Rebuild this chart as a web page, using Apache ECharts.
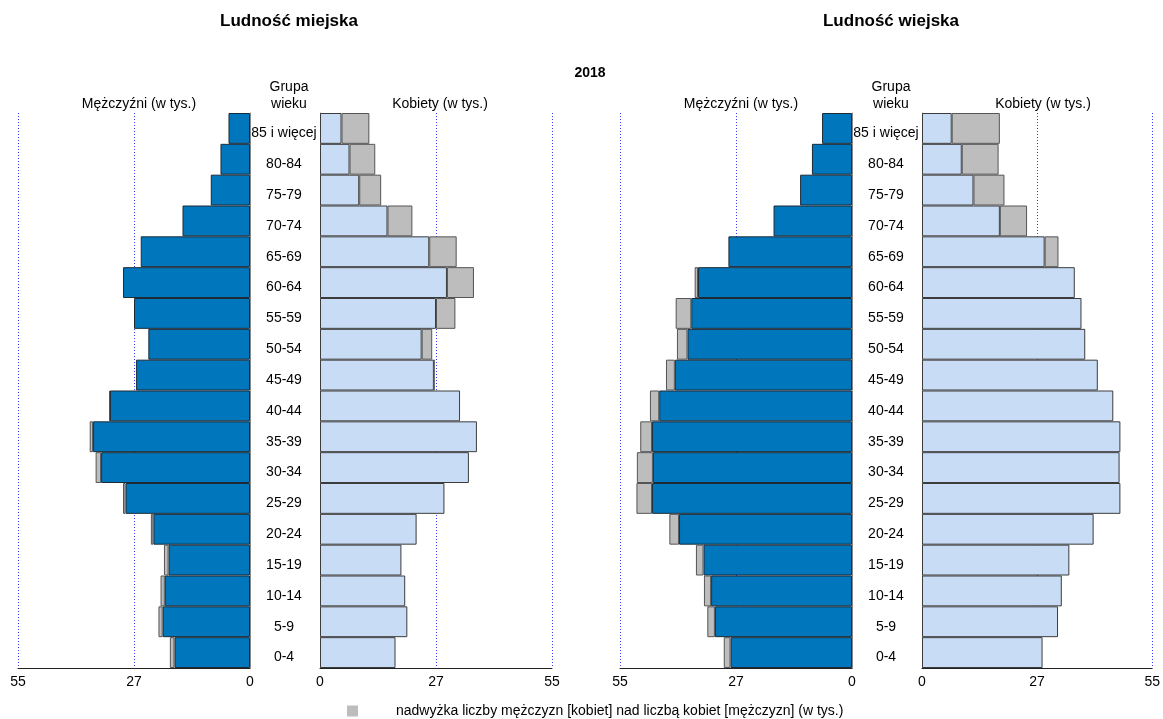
<!DOCTYPE html>
<html>
<head>
<meta charset="utf-8">
<script src="https://cdn.jsdelivr.net/npm/echarts@6/dist/echarts.min.js"></script>
<style>
  html, body { margin: 0; padding: 0; background: #fff; }
  #main { width: 1163px; height: 719px; }
</style>
</head>
<body>
<div id="main"></div>
<script>
// age groups, top to bottom
var ageGroups = ['85 i więcej', '80-84', '75-79', '70-74', '65-69', '60-64', '55-59', '50-54', '45-49',
    '40-44', '35-39', '30-34', '25-29', '20-24', '15-19', '10-14', '5-9', '0-4'];

// ludnosc miejska (w tys.)
var urbanMen   = [5.1, 7.0, 9.3, 16.0, 25.9, 30.1, 27.5, 24.1, 27.0, 33.4, 38.0, 36.6, 30.1, 23.5, 20.4, 21.2, 21.7, 19.0];
var urbanWomen = [11.7, 13.1, 14.5, 21.9, 32.4, 36.5, 32.1, 26.6, 27.1, 33.2, 37.2, 35.3, 29.5, 22.9, 19.3, 20.2, 20.7, 17.9];

// ludnosc wiejska (w tys.)
var ruralMen   = [7.1, 9.5, 12.3, 18.6, 29.3, 37.3, 41.8, 41.5, 44.1, 47.9, 50.2, 51.0, 51.1, 43.3, 37.0, 35.1, 34.3, 30.4];
var ruralWomen = [18.6, 18.3, 19.7, 25.1, 32.6, 36.5, 38.1, 39.0, 42.0, 45.7, 47.4, 47.2, 47.4, 41.0, 35.2, 33.4, 32.5, 28.8];

var tickValues = [0, 27.5, 55];
var tickLabels = ['0', '27', '55'];

var excessName = 'nadwyżka liczby mężczyzn [kobiet] nad liczbą kobiet [mężczyzn] (w tys.)';
var font = 'Liberation Sans, Arial, sans-serif';

var myChart = echarts.init(document.getElementById('main'));

function xAxisFor(idx, inverse) {
    return {
        type: 'value', gridIndex: idx, min: 0, max: 55, interval: 27.5, inverse: inverse,
        axisLine: {show: true, lineStyle: {color: '#222', width: 1}},
        axisTick: {show: false},
        axisLabel: {
            color: '#000', fontSize: 14, fontFamily: font, margin: 7,
            showMinLabel: true, showMaxLabel: true,
            formatter: function (v) { return tickLabels[tickValues.indexOf(v)]; }
        },
        splitLine: {show: true, lineStyle: {color: ['#3a3aff'], type: [1, 2], width: 1, opacity: 1}}
    };
}

function yAxisFor(idx, male) {
    return {
        type: 'category', gridIndex: idx, data: ageGroups, inverse: true,
        position: male ? 'right' : 'left',
        axisLine: {show: true, onZero: false, lineStyle: {color: '#888', width: 1}},
        axisTick: {show: false},
        axisLabel: {
            show: male, color: '#000', fontSize: 14, fontFamily: font,
            margin: 34, align: 'center', verticalAlign: 'top', padding: [-2, 0, 0, 0]
        }
    };
}

// blue = smaller of the two, grey = surplus on the bigger side
function panelSeries(idx, main, other, color, border) {
    return [
        {
            name: 'base' + idx, type: 'bar', xAxisIndex: idx, yAxisIndex: idx, stack: 's' + idx,
            barWidth: '100%', barCategoryGap: 0,
            data: main.map(function (v, i) { return Math.min(v, other[i]); }),
            itemStyle: {color: color, borderColor: border, borderWidth: 1},
            silent: true
        },
        {
            name: excessName, type: 'bar', xAxisIndex: idx, yAxisIndex: idx, stack: 's' + idx,
            barWidth: '100%', barCategoryGap: 0,
            data: main.map(function (v, i) { return v > other[i] ? +(v - other[i]).toFixed(1) : null; }),
            itemStyle: {color: '#bdbdbd', borderColor: '#555', borderWidth: 1},
            silent: true
        }
    ];
}

var darkBlue = '#0077bd';
var lightBlue = '#c8dcf6';

function heading(text, x, y, size, bold) {
    return {
        text: text, left: x, top: y, textAlign: 'center',
        textStyle: {fontSize: size, fontWeight: bold ? 'bold' : 'normal', color: '#000',
            lineHeight: 17, fontFamily: font}
    };
}

var option = {
    backgroundColor: '#fff',
    animation: false,
    textStyle: {fontFamily: font},
    title: [
        heading('Ludność miejska', 284, 8, 17, true),
        heading('Ludność wiejska', 886, 8, 17, true),
        heading('2018', 585, 60, 14, true),
        heading('Mężczyźni (w tys.)', 134, 91, 14),
        heading('Kobiety (w tys.)', 435, 91, 14),
        heading('Mężczyźni (w tys.)', 736, 91, 14),
        heading('Kobiety (w tys.)', 1038, 91, 14),
        heading('Grupa\nwieku', 284, 74, 14),
        heading('Grupa\nwieku', 886, 74, 14)
    ],
    legend: {
        data: [excessName],
        left: 342, top: 699,
        selectedMode: false,
        icon: 'rect', itemWidth: 11, itemHeight: 11,
        itemStyle: {borderWidth: 0},
        textStyle: {fontSize: 14, color: '#000', padding: [0, 0, 0, 33], fontFamily: font}
    },
    grid: [
        {left: 18, top: 113, width: 232, height: 555},
        {left: 320, top: 113, width: 232, height: 555},
        {left: 620, top: 113, width: 232, height: 555},
        {left: 922, top: 113, width: 231, height: 555}
    ],
    xAxis: [xAxisFor(0, true), xAxisFor(1, false), xAxisFor(2, true), xAxisFor(3, false)],
    yAxis: [yAxisFor(0, true), yAxisFor(1, false), yAxisFor(2, true), yAxisFor(3, false)],
    series: [].concat(
        panelSeries(0, urbanMen, urbanWomen, darkBlue, '#1c2a36'),
        panelSeries(1, urbanWomen, urbanMen, lightBlue, '#3c3c3c'),
        panelSeries(2, ruralMen, ruralWomen, darkBlue, '#1c2a36'),
        panelSeries(3, ruralWomen, ruralMen, lightBlue, '#3c3c3c')
    )
};
myChart.setOption(option);
</script>
</body>
</html>
